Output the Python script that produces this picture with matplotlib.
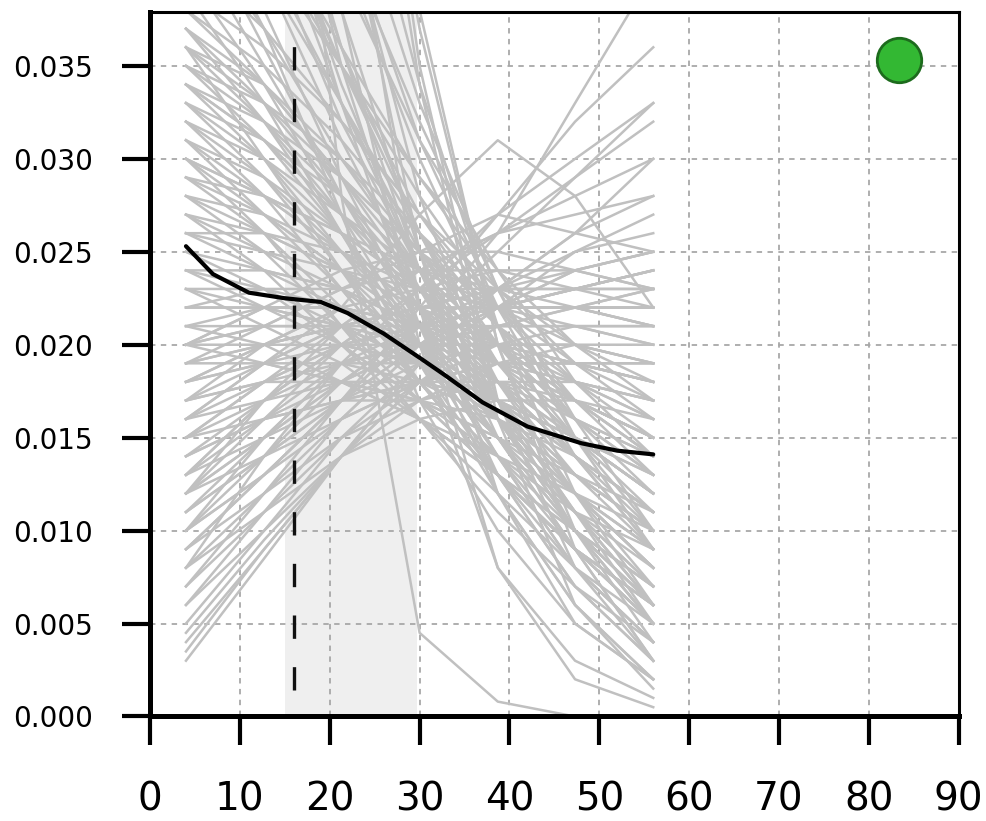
import matplotlib
matplotlib.use("Agg")
import matplotlib.pyplot as plt

curve_x = [4, 12.7, 21.3, 30, 38.7, 47.3, 56]

# gray curves, values in units of 1e-3 (values above the top are clipped)
curves = [
    # steep ones coming in from the top
    [60, 48, 36, 26, 18, 12, 8],
    [55, 44, 33, 24, 17, 11, 6],
    [50, 40, 31, 23, 16, 10, 5],
    [47, 38, 29, 21, 14, 8, 4],
    [44, 36, 28, 21, 15, 10, 7],
    [42, 35, 28, 22, 17, 13, 10],
    [40, 34, 27, 20, 13, 7, 3],
    [39, 33, 26, 19, 12, 6, 2],
    [65, 50, 36, 24, 15, 9, 5],
    [70, 52, 35, 22, 13, 7, 3],
    [58, 46, 34, 24, 16, 10, 6],
    [52, 44, 35, 26, 19, 14, 11],
    [48, 41, 33, 25, 19, 15, 12],
    [75, 55, 38, 25, 16, 10, 6],
    [80, 58, 38, 20, 8, 3, 1],
    [95, 65, 28, 4.5, 0.8, 0, 0],
    [38, 35, 31, 26, 21, 17, 14],
    [37, 33, 28, 23, 18, 14, 11],
    [36, 32, 27, 22, 16, 11, 7],
    [62, 47, 33, 21, 12, 6, 2],
    [45, 37, 27, 17, 10, 5, 2],
    [43, 37, 30, 24, 19, 16, 14],
    [90, 70, 45, 25, 12, 5, 2],
    [85, 66, 44, 28, 17, 10, 6],
    [100, 75, 48, 22, 8, 2, 0.5],
    [48, 42, 35, 28, 22, 17, 13],
    [46, 40, 33, 26, 20, 15, 11],
    [41, 37, 32, 27, 22, 18, 15],
    [39, 36, 32, 27, 23, 20, 18],
    [38, 34, 29, 24, 19, 15, 12],
    [37, 32, 26, 20, 14, 9, 5],
    [56, 45, 35, 27, 21, 16, 12],
    [53, 42, 32, 24, 18, 13, 9],
    [68, 54, 41, 30, 21, 14, 9],
    [72, 57, 43, 31, 22, 15, 10],
    [60, 50, 40, 31, 24, 18, 14],
    [64, 53, 42, 32, 23, 16, 10],
    [78, 62, 46, 33, 23, 15, 9],
    [85, 68, 50, 34, 21, 12, 6],
    [110, 85, 60, 37, 20, 9, 3],
    [120, 90, 60, 34, 16, 6, 1.5],
    [50, 43, 36, 29, 23, 19, 16],
    [46, 41, 35, 29, 24, 20, 17],
    [130, 100, 65, 35, 17, 8, 4],
    [140, 105, 68, 38, 20, 10, 5],
    # start in the middle, slope down
    [34, 31, 27, 23, 19, 15, 12],
    [33, 30, 26, 21, 16, 12, 9],
    [32, 29, 25, 21, 17, 13, 10],
    [31, 28, 25, 22, 19, 17, 15],
    [30, 28, 25, 22, 18, 14, 10],
    [29, 27, 24, 20, 16, 12, 8],
    [28, 26, 24, 21, 18, 15, 13],
    [27, 26, 24, 22, 20, 18, 16],
    [26, 24, 22, 19, 15, 11, 7],
    [25, 24, 23, 21, 19, 17, 15],
    [24, 23, 21, 18, 14, 10, 6],
    [23, 22, 21, 19, 17, 15, 13],
    [35, 31, 26, 20, 14, 8, 4],
    [33, 29, 24, 19, 13, 8, 3],
    [36, 30, 24, 18, 13, 9, 6],
    [31, 27, 23, 18, 13, 9, 5],
    [29, 26, 22, 18, 13, 9, 6],
    [27, 25, 23, 20, 17, 14, 11],
    [34, 32, 29, 25, 21, 18, 16],
    [30, 27, 24, 21, 19, 18, 17],
    [37, 34, 29, 23, 17, 12, 9],
    [35, 33, 30, 26, 22, 19, 17],
    [34, 31, 27, 23, 20, 19, 19],
    [32, 30, 27, 24, 22, 21, 21],
    [28, 27, 25, 23, 22, 22, 23],
    [30, 28, 26, 24, 23, 23, 24],
    [26, 25, 24, 23, 22, 22, 22],
    [36, 33, 29, 25, 22, 20, 19],
    [36, 34, 30, 25, 20, 16, 13],
    [35, 32, 28, 24, 20, 16, 13],
    [34, 30, 25, 20, 15, 11, 8],
    [33, 31, 28, 24, 20, 17, 14],
    [32, 28, 23, 18, 13, 9, 6],
    [31, 29, 26, 23, 20, 17, 15],
    [30, 26, 21, 16, 11, 7, 4],
    [29, 28, 26, 23, 20, 17, 14],
    [28, 25, 21, 17, 13, 9, 6],
    [27, 24, 20, 16, 12, 8, 5],
    [25, 23, 20, 17, 13, 9, 5],
    [24, 22, 20, 17, 14, 11, 9],
    [23, 21, 19, 16, 13, 10, 7],
    [21, 20, 18, 16, 13, 10, 7],
    [20, 19, 18, 16, 14, 12, 10],
    [19, 19, 18, 17, 15, 13, 11],
    # start low, slope up
    [3, 8.5, 14, 19, 22, 25, 27],
    [4, 9, 14, 19, 23, 26, 28],
    [5, 10, 15, 19, 22, 24, 25],
    [6, 11, 16, 20, 23, 25, 26],
    [7, 12, 16, 20, 23, 26, 30],
    [9, 13, 17, 21, 25, 29, 33],
    [10, 14, 18, 21, 23, 24, 25],
    [11, 15, 18, 21, 22, 23, 23],
    [12, 15, 18, 20, 21, 22, 22],
    [13, 16, 19, 21, 22, 22, 21],
    [14, 16, 18, 20, 21, 21, 20],
    [15, 17, 19, 20, 20, 19, 18],
    [16, 18, 19, 20, 20, 20, 19],
    [8, 12, 17, 22, 27, 32, 36],
    [12, 15, 19, 23, 27, 30, 33],
    [10, 13, 17, 21, 26, 33, 40],
    [14, 17, 20, 23, 26, 29, 32],
    [17, 18, 20, 21, 22, 23, 24],
    [18, 19, 20, 21, 21, 21, 21],
    [19, 20, 21, 22, 22, 23, 24],
    [20, 20, 21, 21, 22, 22, 23],
    [21, 21, 21, 20, 19, 18, 17],
    [22, 22, 22, 21, 20, 19, 18],
    [16, 19, 22, 27, 31, 28, 22],
    [20, 21, 23, 25, 27, 26, 25],
    [3.5, 9, 14, 18, 21, 22, 22],
    [4.5, 9.5, 14, 18, 20, 21, 20],
    [6, 10, 14, 17, 19, 20, 20],
    [7, 11, 15, 18, 19, 19, 18],
    [9, 12, 15, 17, 18, 18, 17],
    [10, 13, 16, 18, 19, 19, 18],
    [11, 14, 17, 19, 20, 20, 19],
    [12, 14, 16, 18, 19, 19, 19],
    [8, 11, 14, 16, 17, 17, 16],
    [9, 13, 17, 20, 22, 23, 24],
    [11, 14, 17, 20, 22, 24, 25],
    [12, 16, 20, 23, 24, 24, 23],
    [13, 17, 21, 24, 26, 27, 28],
    [15, 18, 21, 24, 26, 28, 30],
    [16, 19, 21, 22, 23, 23, 23],
    [17, 19, 21, 22, 22, 22, 21],
    [18, 20, 22, 23, 23, 22, 21],
    [19, 21, 23, 24, 24, 23, 22],
    [20, 22, 24, 25, 25, 24, 23],
    # up first, then down
    [10, 15, 19, 19, 16, 11, 6],
    [12, 17, 20, 19, 15, 10, 5],
    [8, 14, 19, 20, 17, 12, 7],
    [15, 18, 20, 19, 16, 12, 8],
    [18, 20, 21, 19, 15, 10, 4],
    [20, 22, 22, 20, 16, 11, 6],
    [13, 17, 20, 20, 18, 15, 12],
    [17, 20, 22, 21, 18, 14, 9],
    [24, 24, 23, 20, 15, 9, 3],
    [22, 23, 23, 21, 17, 12, 8],
    [26, 26, 25, 22, 17, 11, 5],
    [13, 15, 17, 18, 18, 17, 15],
    [14, 16, 17, 18, 17, 15, 12],
    [15, 16, 17, 17, 16, 14, 11],
    [16, 17, 18, 18, 17, 15, 12],
    [17, 18, 18, 17, 15, 12, 9],
    [18, 19, 19, 18, 16, 13, 10],
    [19, 20, 20, 19, 17, 14, 11],
    [20, 21, 21, 19, 16, 12, 8],
    [21, 22, 22, 21, 19, 17, 15],
    [22, 22, 21, 19, 16, 13, 10],
    [23, 23, 22, 20, 18, 16, 14],
]

# black mean curve (units of 1e-3)
mean_x = [4, 7, 11, 15, 19, 22, 26, 30, 33, 37, 42, 48, 52, 56]
mean_y = [25.3, 23.8, 22.8, 22.5, 22.3, 21.7, 20.6, 19.3, 18.3, 16.9, 15.6, 14.7, 14.3, 14.1]

band = (15, 29.7)
marker_x = 16
point = (83.3, 35.3)

fig = plt.figure(figsize=(9.87, 8.21), dpi=100)
ax = fig.add_axes([0.152, 0.1273, 0.8194, 0.8581])

ax.axvspan(band[0], band[1], color='#efefef', lw=0, zorder=0)
ax.grid(True, color='#a8a8a8', linestyle=(0, (3, 3)), linewidth=1.3, zorder=0.5)

for c in curves:
    ax.plot(curve_x, [v * 1e-3 for v in c], color='#c0c0c0', lw=1.8, zorder=2)

# drawn bottom-up so the dash pattern starts at the lower end
ax.plot([marker_x, marker_x], [0.0014, 0.0372], color='#111111', lw=2.4,
        linestyle=(0, (7, 8.5)), zorder=2.5)

ax.plot(mean_x, [v * 1e-3 for v in mean_y], color='black', lw=3, zorder=3,
        solid_capstyle='round')

ax.plot(point[0], point[1] * 1e-3, 'o', ms=32, mfc='#33b833', mec='#1d6b1d',
        mew=2, zorder=4)

ax.set_xlim(0, 90)
ax.set_ylim(0, 0.0379)
ax.set_xticks(range(0, 91, 10))
ax.set_yticks([0, 0.005, 0.01, 0.015, 0.02, 0.025, 0.03, 0.035])
ax.set_yticklabels(['0.000', '0.005', '0.010', '0.015', '0.020', '0.025',
                    '0.030', '0.035'])

ax.tick_params(axis='x', length=21, width=3, pad=25, labelsize=28)
ax.tick_params(axis='y', length=20, width=3, pad=21, labelsize=20)

for s in ['left', 'bottom']:
    ax.spines[s].set_linewidth(3.6)
for s in ['top', 'right']:
    ax.spines[s].set_linewidth(2.2)

fig.savefig('out.png', dpi=100)
